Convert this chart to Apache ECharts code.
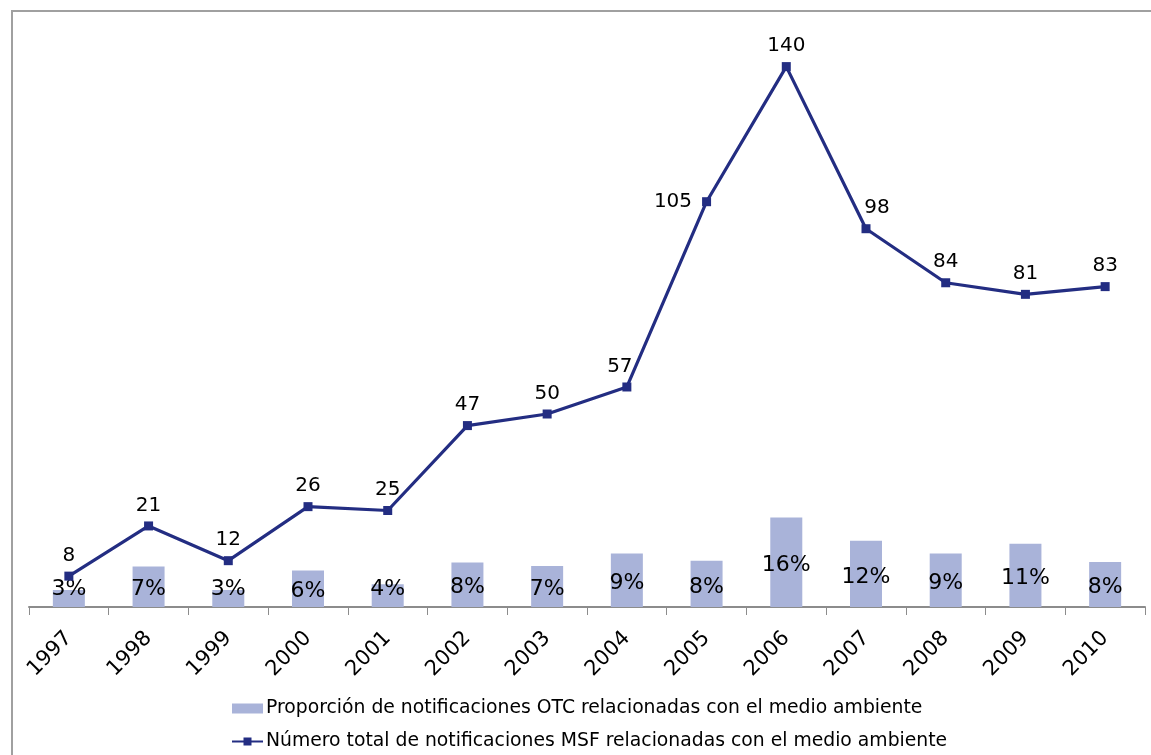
<!DOCTYPE html>
<html>
<head>
<meta charset="utf-8">
<script src="https://cdn.jsdelivr.net/npm/echarts@6/dist/echarts.min.js"></script>
<style>html,body{margin:0;padding:0;background:#fff}#c{width:1151px;height:755px}</style>
</head>
<body>
<div id="c"></div>
<script>
var years = ['1997','1998','1999','2000','2001','2002','2003','2004','2005','2006','2007','2008','2009','2010'];
var otcShare = [3.0, 7.1, 3.0, 6.4, 4.0, 7.8, 7.2, 9.4, 8.1, 15.7, 11.6, 9.4, 11.1, 7.9];
var msfTotal = [8, 21, 12, 26, 25, 47, 50, 57, 105, 140, 98, 84, 81, 83];
var barName = 'Proporción de notificaciones OTC relacionadas con el medio ambiente';
var lineName = 'Número total de notificaciones MSF relacionadas con el medio ambiente';

var FONT = 'DejaVu Sans';
var barData = otcShare.map(function (v) {
  var item = { value: v };
  if (v < 6) item.label = { position: 'insideBottom', distance: 7, offset: [0, 0] };
  return item;
});
var lineData = msfTotal.map(function (v, i) {
  var item = { value: v };
  if (years[i] === '2005') item.label = { position: 'left', distance: 10 };
  if (years[i] === '2007') item.label = { offset: [11, 0] };
  if (years[i] === '2004') item.label = { offset: [-7, 0] };
  return item;
});

var chart = echarts.init(document.getElementById('c'), null, { renderer: 'canvas' });
chart.setOption({
  animation: false,
  backgroundColor: '#fff',
  textStyle: { fontFamily: FONT },
  graphic: [
    { type: 'line', silent: true, z: -10, shape: { x1: 11, y1: 11, x2: 1151, y2: 11 }, style: { stroke: '#a0a0a0', lineWidth: 2 } },
    { type: 'line', silent: true, z: -10, shape: { x1: 12, y1: 10, x2: 12, y2: 755 }, style: { stroke: '#a0a0a0', lineWidth: 2 } }
  ],
  grid: { left: 29, right: 6, top: 28, bottom: 148, containLabel: false },
  legend: {
    orient: 'vertical', left: 231, top: 699, padding: 0,
    itemWidth: 31, itemHeight: 10, itemGap: 14,
    textStyle: { fontFamily: FONT, fontSize: 18.8, color: '#000', padding: [0, 0, 0, -2] },
    data: [{ name: barName, icon: 'rect' }, { name: lineName }]
  },
  xAxis: {
    type: 'category', data: years, boundaryGap: true,
    axisLine: { lineStyle: { color: '#8c8c8c', width: 2 } },
    axisTick: { show: true, length: 8, lineStyle: { color: '#8c8c8c', width: 1 } },
    axisLabel: { rotate: 45, fontFamily: FONT, fontSize: 21, color: '#000', margin: 28, interval: 0 },
    splitLine: { show: false }
  },
  yAxis: [
    { type: 'value', min: 0, max: 150, show: false, splitLine: { show: false } },
    { type: 'value', min: 0, max: 101.5, show: false, splitLine: { show: false } }
  ],
  series: [
    {
      name: barName, type: 'bar', yAxisIndex: 1, data: barData, barWidth: 32, z: 1,
      itemStyle: { color: '#a9b3d9' },
      label: {
        show: true, position: 'inside', offset: [0, 3], fontFamily: FONT, fontSize: 22, color: '#000',
        formatter: function (p) { return Math.round(p.value) + '%'; }
      }
    },
    {
      name: lineName, type: 'line', yAxisIndex: 0, data: lineData, z: 3,
      symbol: 'rect', symbolSize: 9,
      lineStyle: { color: '#232d82', width: 3.2 },
      itemStyle: { color: '#232d82' },
      label: { show: true, position: 'top', distance: 6, fontFamily: FONT, fontSize: 20, color: '#000' }
    }
  ]
});
</script>
</body>
</html>
